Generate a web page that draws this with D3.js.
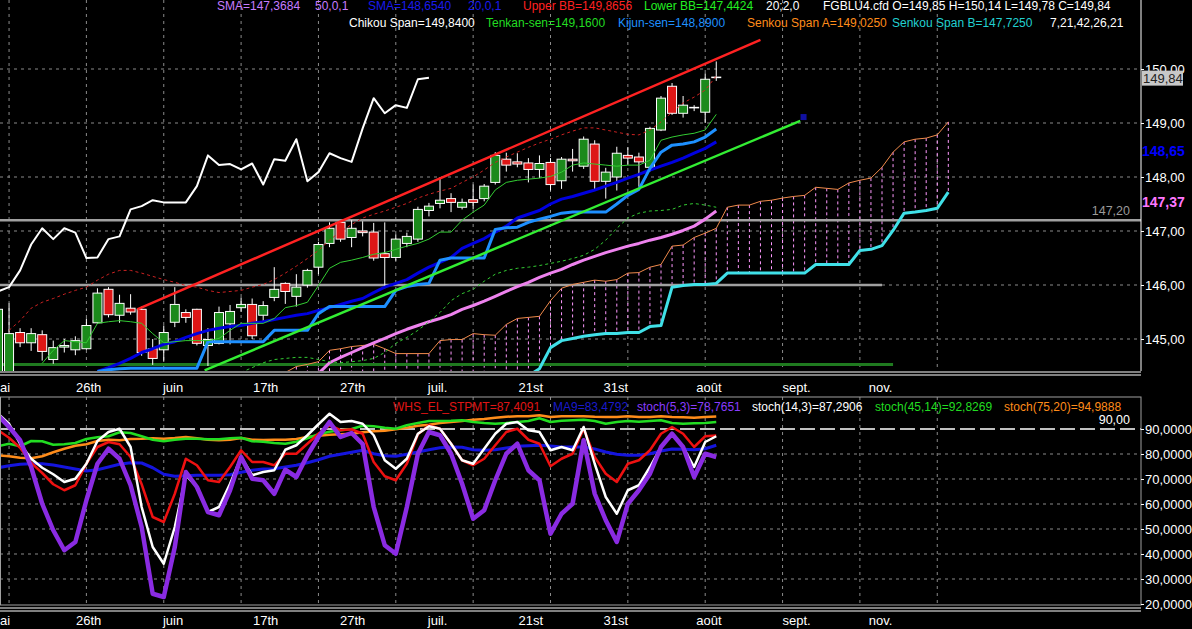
<!DOCTYPE html>
<html>
<head>
<meta charset="utf-8">
<script src="https://cdn.jsdelivr.net/npm/d3@7"></script>
<style>
  html, body { margin: 0; padding: 0; background: #000; overflow: hidden; }
  svg { display: block; font-family: "Liberation Sans", Arial, sans-serif; }
</style>
</head>
<body>
<svg id="chart" width="1192" height="629"></svg>
<script>
// ---- price bars (bar 0 .. 65) ----
const opens = [144.30,144.30,145.12,144.93,145.08,144.62,144.85,144.80,144.82,145.30,
  145.92,145.44,145.57,145.55,144.82,144.80,145.31,145.49,145.55,144.88,
  144.92,145.28,145.58,145.64,145.44,145.77,146.03,145.79,146.00,146.33,
  146.77,147.16,146.88,147.00,146.98,146.58,146.51,146.77,146.85,147.38,
  147.51,147.60,147.44,147.58,147.60,147.90,148.33,148.28,148.26,148.14,
  148.27,147.93,148.33,148.20,148.61,147.92,148.00,148.40,148.37,148.18,
  148.87,149.68,149.18,149.29,149.20,149.85];
const highs = [145.62,145.66,145.20,145.20,145.16,144.97,145.00,145.05,145.38,145.94,
  145.96,145.82,145.83,145.60,145.00,145.25,145.96,145.55,145.56,145.20,
  145.60,145.63,145.77,145.75,145.70,146.33,146.05,146.20,146.30,146.80,
  147.16,147.20,147.20,147.18,147.15,147.16,146.94,146.97,147.45,147.52,
  148.00,147.70,147.60,147.86,147.87,148.46,148.45,148.44,148.35,148.40,
  148.35,148.37,148.52,148.75,148.68,148.17,148.56,148.55,148.45,148.93,
  149.50,149.74,149.50,149.33,149.92,150.14];
const lows = [144.20,144.20,144.85,144.78,144.60,144.54,144.75,144.70,144.80,145.28,
  145.40,145.30,145.45,144.69,144.52,144.58,145.22,145.30,144.88,144.50,
  144.90,144.90,145.50,145.00,145.30,145.70,145.65,145.60,145.95,146.20,
  146.70,146.80,146.70,146.90,146.45,145.94,146.45,146.70,146.80,147.27,
  147.42,147.35,147.40,147.40,147.55,147.86,148.10,148.18,147.90,147.98,
  147.75,147.78,148.10,148.15,147.75,147.60,147.75,148.22,147.82,148.10,
  148.85,149.15,149.10,149.22,149.00,149.78];
const closes = [145.55,145.10,144.93,145.10,144.77,144.84,144.88,144.97,145.25,145.85,
  145.45,145.66,145.50,144.75,144.64,145.12,145.64,145.40,144.92,144.99,
  145.49,145.51,145.64,145.06,145.62,145.92,145.88,145.96,146.27,146.75,
  147.05,146.85,147.05,146.97,146.50,146.51,146.85,146.90,147.40,147.46,
  147.57,147.53,147.53,147.53,147.83,148.40,148.22,148.24,148.14,148.25,
  147.86,148.33,148.30,148.70,147.92,148.09,148.44,148.35,148.28,148.90,
  149.46,149.18,149.33,149.28,149.81,149.84];

// ---- upper panel indicators (value arrays start at the given bar) ----
const tenkanStart = 4;
const tenkan = [144.55,144.79,144.97,144.95,144.93,145.29,145.32,145.34,145.32,145.29,
  145.10,144.93,144.95,144.97,144.97,144.97,145.01,145.16,145.29,145.29,
  145.29,145.38,145.58,145.62,145.68,145.99,146.31,146.42,146.46,146.51,
  146.57,146.60,146.66,146.72,146.77,146.85,146.98,146.98,147.20,147.35,
  147.48,147.76,147.90,147.94,147.96,147.98,148.01,148.09,148.22,148.26,
  148.24,148.22,148.20,148.22,148.22,148.31,148.68,148.74,148.78,148.81,
  148.87,149.16];
const kijunStart = 9;
const kijun = [144.40,144.43,144.45,144.46,144.46,144.46,144.46,144.46,144.46,144.46,
  144.95,144.95,144.95,144.95,144.95,144.95,145.16,145.16,145.16,145.16,
  145.47,145.60,145.60,145.60,145.60,145.60,145.60,145.90,145.97,146.01,
  146.03,146.46,146.50,146.50,146.50,146.50,147.03,147.06,147.07,147.16,
  147.22,147.27,147.33,147.35,147.35,147.35,147.35,147.50,147.66,147.77,
  148.16,148.46,148.59,148.61,148.65,148.74,148.89];
const sma20Start = 9;
const sma20 = [144.40,144.47,144.55,144.64,144.75,144.82,144.90,144.95,145.03,145.10,
  145.16,145.20,145.23,145.25,145.29,145.32,145.36,145.40,145.44,145.47,
  145.53,145.58,145.64,145.70,145.75,145.86,145.96,146.03,146.10,146.22,
  146.33,146.42,146.51,146.68,146.77,146.86,146.98,147.09,147.24,147.31,
  147.38,147.50,147.59,147.64,147.70,147.76,147.83,147.90,147.98,148.05,
  148.13,148.20,148.27,148.35,148.44,148.53,148.65];
const sma50Start = 29;
const sma50 = [144.36,144.56,144.66,144.75,144.84,144.93,145.01,145.10,145.18,145.25,
  145.32,145.38,145.45,145.55,145.62,145.70,145.79,145.88,145.97,146.05,
  146.14,146.22,146.29,146.38,146.46,146.53,146.60,146.66,146.72,146.77,
  146.83,146.88,146.94,147.01,147.09,147.22,147.37];
const bbUpperStart = 1;
const bbUpper = [145.16,145.34,145.57,145.68,145.75,145.83,145.90,145.96,146.09,146.20,
  146.27,146.27,146.22,146.16,146.10,146.05,145.99,145.96,145.90,145.86,
  145.88,145.90,145.96,146.01,146.10,146.22,146.35,146.49,146.64,146.83,
  146.99,147.12,147.24,147.31,147.37,147.44,147.51,147.61,147.68,147.74,
  147.79,147.90,148.00,148.13,148.27,148.37,148.46,148.55,148.63,148.70,
  148.78,148.85,148.91,148.91,148.87,148.83,148.79,148.78,148.87,149.02,
  149.20,149.37,149.48,149.61,149.87];
const bbLowerStart = 22;
const bbLower = [144.38,144.47,144.56,144.62,144.64,144.66,144.66,144.62,144.58,144.56,
  144.58,144.60,144.64,144.75,144.92,145.03,145.16,145.32,145.49,145.71,
  145.84,145.92,146.07,146.20,146.27,146.31,146.33,146.36,146.40,146.44,
  146.49,146.55,146.66,146.83,147.05,147.24,147.33,147.37,147.38,147.40,
  147.48,147.51,147.48,147.44];
const spanAStart = 26;
const spanA = [144.38,144.49,144.53,144.58,144.79,144.82,144.86,144.88,144.90,144.82,
  144.73,144.73,144.73,144.73,144.97,144.99,144.99,145.10,145.08,145.07,
  145.27,145.38,145.40,145.42,145.71,145.94,146.01,146.05,146.09,146.07,
  146.10,146.22,146.23,146.33,146.38,146.72,146.74,146.88,146.96,147.05,
  147.44,147.48,147.48,147.55,147.57,147.61,147.64,147.66,147.81,147.79,
  147.77,147.89,147.94,147.98,148.18,148.46,148.65,148.70,148.72,148.78,
  149.02];
const spanBStart = 48;
const spanB = [144.32,144.45,144.84,144.97,145.01,145.05,145.08,145.10,145.10,145.12,
  145.12,145.23,145.25,145.96,145.99,146.01,146.01,146.03,146.22,146.22,
  146.22,146.22,146.22,146.22,146.22,146.22,146.38,146.38,146.38,146.38,
  146.64,146.66,146.73,147.01,147.33,147.35,147.38,147.42,147.72];
const chikouShift = 26;

// drawn trend lines and levels: [bar, price]
const channelTop = [[12.6, 145.55], [69.0, 150.54]];
const channelBottom = [[18.7, 144.42], [72.6, 149.04]];
const channelMarker = [72.9, 149.11];
const supportLevel = 144.53, supportEnd = 81;
const grayLevel = 147.20;
const grayLevel2 = 146.00, grayLevel2End = 80;

// ---- lower panel oscillators (bar 0 .. 65) ----
const stpmt = [89.5,86.5,82.5,76.5,72.4,67.9,65.5,67.5,76.1,82.8,
  84.8,83.9,78.8,67.9,54.8,52.8,64.1,78.1,75.5,69.5,
  68.8,74.8,81.5,76.8,76.8,75.5,80.1,80.1,84.1,88.1,
  91.5,89.5,89.9,88.1,76.8,71.1,69.5,76.1,87.9,91.5,
  90.1,84.1,77.5,75.5,78.1,83.5,88.8,90.1,85.7,84.1,
  75.1,78.1,80.1,90.1,78.8,72.1,68.8,76.1,77.5,81.5,
  88.1,90.8,88.1,82.8,87.1,87.4];
const ma9 = [74.5,75.3,75.9,76.1,76.1,75.6,74.8,74.0,73.2,73.7,
  74.8,75.9,76.5,76.4,74.5,71.9,71.1,71.3,71.5,71.5,
  71.5,71.7,72.7,73.5,74.0,74.1,74.8,75.5,76.5,77.7,
  79.1,79.9,80.7,81.5,80.1,79.3,79.1,79.9,80.8,81.7,
  82.5,82.8,82.7,81.7,81.5,81.7,82.4,83.1,83.3,83.5,
  83.2,82.8,82.8,82.8,82.0,80.8,79.9,79.5,79.5,80.1,
  81.2,82.0,81.9,81.7,82.1,83.5];
const stoch53 = [95.5,90.8,85.5,74.8,60.1,49.5,41.5,44.8,61.5,76.1,
  82.1,78.1,67.5,50.8,24.1,22.8,42.8,72.8,66.8,56.8,
  55.5,65.5,78.8,70.1,69.5,64.1,73.7,70.8,79.5,86.8,
  92.8,86.8,88.4,84.0,58.8,43.5,40.1,58.8,80.1,88.8,
  87.5,80.1,68.1,54.1,57.5,69.5,80.1,84.1,73.5,69.5,
  48.1,56.1,60.1,85.5,64.1,53.5,44.8,60.1,65.5,72.1,
  82.8,88.1,82.8,70.8,80.1,78.8];
const stoch143 = [96.1,92.1,84.1,78.1,74.5,71.9,68.8,70.1,76.1,85.2,
  88.8,90.1,82.8,58.8,42.8,36.1,50.8,71.5,66.8,56.8,
  58.8,68.1,78.8,71.5,72.8,73.5,81.7,83.5,87.5,91.9,
  96.1,92.8,93.2,92.1,87.5,77.5,74.1,78.1,88.1,91.1,
  90.1,84.1,77.5,76.1,82.1,88.1,92.1,92.8,89.5,88.8,
  81.5,82.8,81.5,90.8,76.1,62.8,56.1,65.5,67.5,74.8,
  82.8,88.1,82.8,74.8,84.8,87.1];
const stoch4514 = [83.1,84.1,83.1,85.2,85.1,83.7,83.9,84.4,86.0,86.7,
  87.1,88.7,88.4,87.1,85.7,85.1,85.7,86.1,86.1,85.9,
  85.9,86.3,86.5,85.1,84.9,84.4,84.1,84.9,86.3,87.9,
  88.9,89.5,90.0,91.3,91.1,90.5,90.1,91.5,92.4,93.2,
  93.2,93.3,93.5,92.8,92.4,92.1,92.4,92.8,93.2,94.3,
  92.8,93.3,93.5,93.7,93.2,92.1,92.8,93.2,92.9,93.2,
  93.5,92.4,92.1,92.3,92.4,92.8];
const stoch7520 = [79.5,79.1,78.5,78.3,79.1,80.7,82.1,83.3,83.9,85.2,
  85.7,85.5,86.0,86.1,86.3,86.1,86.4,86.8,86.3,85.7,
  85.5,85.7,86.4,85.7,85.6,85.7,85.7,86.0,86.8,87.3,
  87.7,87.9,88.1,88.7,89.1,89.3,89.9,90.5,91.3,91.7,
  92.4,92.8,93.2,93.7,94.0,94.5,94.9,95.1,95.1,95.5,
  94.8,95.1,95.1,95.1,94.9,94.8,94.8,95.1,94.8,94.8,
  95.1,94.8,94.7,94.5,94.8,95.0];
const oscLevel = 90;

// ---- time axis ----
const timeLabels = ["mai", "26th", "juin", "17th", "27th", "juil.", "21st", "31st", "août", "sept.", "nov."];
const timeLabelBars = [-0.8, 7.06, 14.93, 23.08, 30.95, 38.9, 47.1, 54.8, 63.2, 71.0, 78.8];
const gridBars = d3.range(1, 86, 7);

// ---------------------------------------------------------------
const svg = d3.select("#chart");
const plotR = 1141;
const bot1 = 371, top2 = 397, bot2 = 605;

const x = d3.scaleLinear().domain([0, 65]).range([-2, 716.25]);
const yP = d3.scaleLinear().domain([145, 150]).range([339, 69]);
const yO = d3.scaleLinear().domain([20, 90]).range([604, 429]);

const comma = (v, n) => v.toFixed(n).replace(".", ",");
const pts = (start, vals) => vals.map((v, k) => [start + k, v]);

const defs = svg.append("defs");
defs.append("clipPath").attr("id", "clipUp").append("rect")
  .attr("x", 0).attr("y", 0).attr("width", plotR).attr("height", bot1);
defs.append("clipPath").attr("id", "clipLo").append("rect")
  .attr("x", 0).attr("y", top2).attr("width", plotR).attr("height", bot2 - top2);

// ================= upper panel =================
const up = svg.append("g").attr("clip-path", "url(#clipUp)");

// grid
up.append("g").selectAll("line").data(gridBars).join("line")
  .attr("x1", d => x(d)).attr("x2", d => x(d)).attr("y1", 0).attr("y2", bot1)
  .attr("stroke", "#8a8a8a").attr("stroke-dasharray", "3,4");
up.append("g").selectAll("line").data(yP.ticks(5)).join("line")
  .attr("x1", 0).attr("x2", plotR).attr("y1", d => yP(d)).attr("y2", d => yP(d))
  .attr("stroke", "#8a8a8a").attr("stroke-dasharray", "3,4");

// cloud hatching
const hatch = pts(spanAStart, spanA).map(([b, a]) => {
  const k = b - spanBStart;
  return { b, a, lo: k >= 0 ? spanB[k] : null };
});
up.append("g").selectAll("line").data(hatch).join("line")
  .attr("x1", d => x(d.b)).attr("x2", d => x(d.b))
  .attr("y1", d => yP(d.a)).attr("y2", d => d.lo == null ? bot1 : yP(d.lo))
  .attr("stroke", "#ff99ff").attr("stroke-dasharray", "3,3");

// horizontal levels
up.append("line").attr("x1", 0).attr("x2", x(supportEnd))
  .attr("y1", yP(supportLevel)).attr("y2", yP(supportLevel))
  .attr("stroke", "#1f7a1f").attr("stroke-width", 3);
up.append("line").attr("x1", 0).attr("x2", plotR)
  .attr("y1", yP(grayLevel)).attr("y2", yP(grayLevel))
  .attr("stroke", "#a0a0a0").attr("stroke-width", 2.5);
up.append("line").attr("x1", 0).attr("x2", x(grayLevel2End))
  .attr("y1", yP(grayLevel2)).attr("y2", yP(grayLevel2))
  .attr("stroke", "#a0a0a0").attr("stroke-width", 2.5);

// candles
const candles = up.append("g").selectAll("g").data(d3.range(opens.length)).join("g");
candles.append("line")
  .attr("x1", i => x(i)).attr("x2", i => x(i))
  .attr("y1", i => yP(highs[i])).attr("y2", i => yP(lows[i]))
  .attr("stroke", "#fff");
candles.append("rect")
  .attr("x", i => x(i) - 4.5).attr("width", 9)
  .attr("y", i => yP(Math.max(opens[i], closes[i])))
  .attr("height", i => Math.max(0.5, Math.abs(yP(opens[i]) - yP(closes[i]))))
  .attr("fill", i => closes[i] >= opens[i] ? "#1b8a1b" : "#dd1616")
  .attr("stroke", "#fff");

const lineP = d3.line().x(d => x(d[0])).y(d => yP(d[1]));
function drawP(data, color, width, dash) {
  up.append("path").datum(data).attr("d", lineP)
    .attr("fill", "none").attr("stroke", color).attr("stroke-width", width)
    .attr("stroke-dasharray", dash || null).attr("stroke-linejoin", "round");
}
drawP(pts(spanAStart, spanA), "#f08a4b", 1);
drawP(pts(spanBStart, spanB), "#40e0e8", 3);
drawP(pts(sma50Start, sma50), "#ee82ee", 3);
drawP(pts(bbLowerStart, bbLower), "#33cc33", 1, "3,3");
drawP(pts(bbUpperStart, bbUpper), "#cc2222", 1, "3,3");
drawP(pts(sma20Start, sma20), "#0000e0", 3);
drawP(pts(kijunStart, kijun), "#1e90ff", 3);
drawP(pts(tenkanStart, tenkan), "#33cc33", 1);
drawP(channelTop, "#ff2222", 2.5);
drawP(channelBottom, "#33ee33", 2.5);
drawP(closes.slice(chikouShift).map((c, k) => [k, c]), "#ffffff", 2);
up.append("rect")
  .attr("x", x(channelMarker[0]) - 3).attr("y", yP(channelMarker[1]) - 3)
  .attr("width", 6).attr("height", 6).attr("fill", "#1010a0");

// level label
svg.append("text").attr("x", 1130).attr("y", 215).attr("text-anchor", "end")
  .attr("fill", "#9a9a9a").attr("font-size", 12.5).text(comma(grayLevel, 2));

// header rows
const head1 = [
  ["SMA=147,3684", 217, "#c77cff"], ["50,0,1", 315, "#c77cff"],
  ["SMA=148,6540", 368, "#1a1aee"], ["20,0,1", 468, "#1a1aee"],
  ["Upper BB=149,8656", 523, "#ff2020"], ["Lower BB=147,4424", 644, "#22ee22"],
  ["20;2,0", 766, "#ffffff"],
  ["FGBLU4.cfd O=149,85 H=150,14 L=149,78 C=149,84", 823, "#ffffff"]
];
const head2 = [
  ["Chikou Span=149,8400", 349, "#ffffff"], ["Tenkan-sen=149,1600", 486, "#22dd22"],
  ["Kijun-sen=148,8900", 618, "#1e90ff"], ["Senkou Span A=149,0250", 747, "#ff8c1a"],
  ["Senkou Span B=147,7250", 892, "#22d0d0"], ["7,21,42,26,21", 1050, "#ffffff"]
];
function headRow(rows, y) {
  svg.append("g").selectAll("text").data(rows).join("text")
    .attr("x", d => d[1]).attr("y", y).attr("fill", d => d[2])
    .attr("font-size", 12).text(d => d[0]);
}
headRow(head1, 9.5);
headRow(head2, 27);

// right price axis
svg.append("line").attr("x1", plotR).attr("x2", plotR).attr("y1", 0).attr("y2", bot1)
  .attr("stroke", "#fff");
const axP = svg.append("g").attr("transform", `translate(${plotR},0)`)
  .call(d3.axisRight(yP).ticks(5).tickSize(3).tickPadding(1).tickFormat(d => comma(d, 2)));
axP.select(".domain").remove();
axP.selectAll("line").attr("stroke", "#fff");
axP.selectAll("text").attr("fill", "#fff").attr("font-size", 13).attr("font-family", "Liberation Sans, Arial, sans-serif");

const lastClose = closes[closes.length - 1];
svg.append("rect").attr("x", plotR + 1).attr("y", yP(lastClose) - 7)
  .attr("width", 41).attr("height", 15).attr("fill", "#c8c8c8");
svg.append("text").attr("x", plotR + 2).attr("y", yP(lastClose) + 5)
  .attr("fill", "#222").attr("font-size", 13).text(comma(lastClose, 2));
const lastSma20 = sma20[sma20.length - 1], lastSma50 = sma50[sma50.length - 1];
svg.append("text").attr("x", plotR + 1).attr("y", yP(lastSma20) + 14)
  .attr("fill", "#0000ff").attr("font-size", 14).attr("font-weight", "bold").text(comma(lastSma20, 2));
svg.append("text").attr("x", plotR + 1).attr("y", yP(lastSma50) - 4)
  .attr("fill", "#ff77ff").attr("font-size", 14).attr("font-weight", "bold").text(comma(lastSma50, 2));

// separators
[372, 375, 608, 611].forEach(y => svg.append("line")
  .attr("x1", 0).attr("x2", plotR).attr("y1", y).attr("y2", y).attr("stroke", "#fff"));

// date labels
[391.5, 625].forEach(y => {
  svg.append("g").selectAll("text").data(timeLabels).join("text")
    .attr("x", (d, i) => x(timeLabelBars[i])).attr("y", y)
    .attr("fill", "#fff").attr("font-size", 13).text(d => d);
});

// ================= lower panel =================
const lo = svg.append("g").attr("clip-path", "url(#clipLo)");
lo.append("g").selectAll("line").data(gridBars).join("line")
  .attr("x1", d => x(d)).attr("x2", d => x(d)).attr("y1", top2).attr("y2", bot2)
  .attr("stroke", "#8a8a8a").attr("stroke-dasharray", "3,4");
lo.append("g").selectAll("line").data(d3.range(30, 90, 10)).join("line")
  .attr("x1", 0).attr("x2", plotR).attr("y1", d => yO(d)).attr("y2", d => yO(d))
  .attr("stroke", "#8a8a8a").attr("stroke-dasharray", "3,4");
lo.append("line").attr("x1", 0).attr("x2", plotR)
  .attr("y1", yO(oscLevel)).attr("y2", yO(oscLevel))
  .attr("stroke", "#fff").attr("stroke-width", 1.5).attr("stroke-dasharray", "15,5");

const lineO = d3.line().x((d, i) => x(i)).y(d => yO(d));
function drawO(data, color, width) {
  lo.append("path").datum(data).attr("d", lineO)
    .attr("fill", "none").attr("stroke", color).attr("stroke-width", width)
    .attr("stroke-linejoin", "round");
}
drawO(stoch7520, "#ff8c1a", 2.5);
drawO(stoch4514, "#22dd22", 2.5);
drawO(ma9, "#1515dd", 3);
drawO(stpmt, "#ee1111", 2.5);
drawO(stoch143, "#ffffff", 2.5);
drawO(stoch53, "#8a2be2", 4.5);

svg.append("rect").attr("x", 0.5).attr("y", top2).attr("width", plotR - 0.5).attr("height", bot2 - top2)
  .attr("fill", "none").attr("stroke", "#a0a0a0");

const head3 = [
  ["WHS_EL_STPMT=87,4091", 393, "#e01515"], ["MA9=83,4792", 553, "#1a1acc"],
  ["stoch(5,3)=78,7651", 637, "#8a3cff"], ["stoch(14,3)=87,2906", 752, "#ffffff"],
  ["stoch(45,14)=92,8269", 875, "#22dd22"], ["stoch(75,20)=94,9888", 1004, "#ff8c1a"]
];
headRow(head3, 410.5);
svg.append("text").attr("x", 1130).attr("y", 424).attr("text-anchor", "end")
  .attr("fill", "#fff").attr("font-size", 12.5).text(comma(oscLevel, 2));

const axO = svg.append("g").attr("transform", `translate(${plotR},0)`)
  .call(d3.axisRight(yO).tickValues(d3.range(20, 100, 10)).tickSize(3).tickPadding(1)
    .tickFormat(d => comma(d, 4)));
axO.select(".domain").remove();
axO.selectAll("line").attr("stroke", "#fff");
axO.selectAll("text").attr("fill", "#fff").attr("font-size", 13).attr("font-family", "Liberation Sans, Arial, sans-serif");
</script>
</body>
</html>
